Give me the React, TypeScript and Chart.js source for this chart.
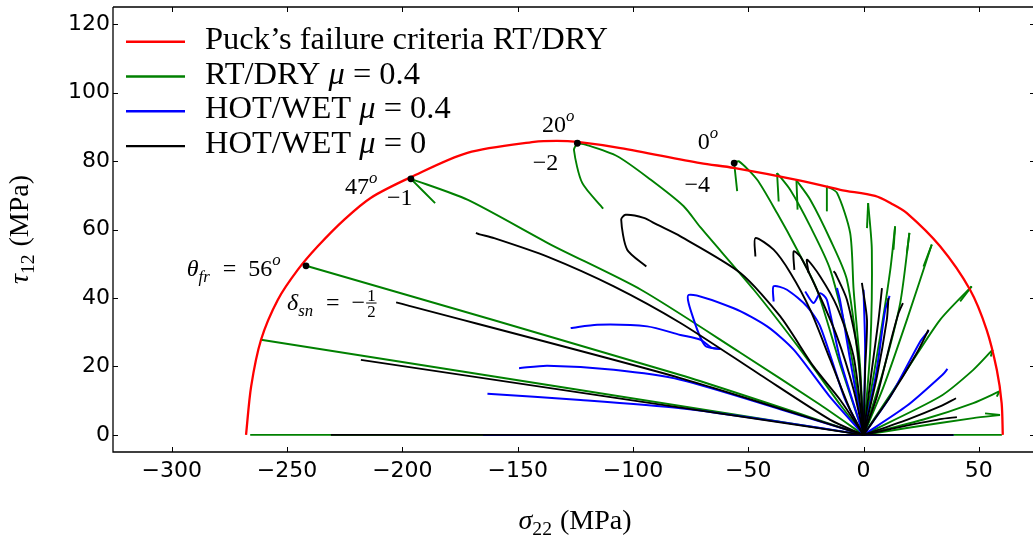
import React, { useEffect, useRef } from 'react';
import { Chart, registerables } from 'chart.js';

Chart.register(...registerables);

type P = [number, number];

const X_MIN = -325.5;
const X_MAX = 73.5;
const X_TICKS = [-300, -250, -200, -150, -100, -50, 0, 50];
const Y_TICKS = [0, 20, 40, 60, 80, 100, 120];

// Puck's failure envelope (RT/DRY)
const puckEnvelope: P[] = [
  [-267.8, 0], [-265.6, 14.1], [-261.3, 27.8], [-254.0, 39.5], [-245.4, 48.2], [-236.7, 55.1],
  [-225.2, 62.9], [-213.6, 69.3], [-196.3, 75.3], [-171.8, 82.4], [-142.9, 85.6], [-133.0, 85.9],
  [-124.1, 85.6], [-105.4, 83.8], [-70.7, 79.4], [-56.3, 78.0], [-27.4, 74.3], [-10.1, 71.6],
  [5.0, 69.8], [12.0, 67.6], [18.8, 64.8], [33.2, 55.1], [46.2, 42.4], [53.4, 30.7], [57.8, 19.0],
  [59.9, 9.3], [60.4, 0],
];

// RT/DRY mu = 0.4
const rtDryCurves: P[][] = [
  [[-266, 0], [60, 0]],
  [[-261.3, 27.8], [0, 0]],
  [[-241.8, 49.4], [-79.4, 17.5], [0, 0]],
  [[-196.3, 74.8], [-171.8, 68.7], [-135.7, 55.6], [-96.5, 42.4], [-53.4, 24.0], [-18.8, 8.8], [0, 0]],
  [[-196.3, 74.8], [-185.8, 67.7]],
  [[-124.1, 85.2], [-120.6, 84.8], [-106.8, 81.4], [-92.4, 74.6], [-78.0, 66.8], [-70.7, 60.6], [-47.6, 42.4], [-27.4, 24.9], [-10.1, 8.8], [0, 0]],
  [[-124.1, 85.2], [-125.6, 83.3], [-122.0, 73.6], [-112.9, 66.1]],
  [[-56.1, 79.4], [-54.0, 79.9], [-46.2, 74.6], [-37.5, 64.8], [-28.8, 54.1], [-20.2, 42.4], [-10.1, 20.5], [0, 0]],
  [[-56.1, 79.4], [-54.8, 71.2]],
  [[-37.5, 76.5], [-31.8, 71.6], [-23.1, 60.9], [-14.4, 48.2], [-5.5, 24.0], [0, 0]],
  [[-37.5, 76.5], [-36.8, 68.2]],
  [[-29.1, 74.4], [-23.1, 68.7], [-14.4, 57.0], [-7.2, 45.3], [-2.0, 20.0], [0, 0]],
  [[-29.1, 74.4], [-28.6, 65.8]],
  [[-15.9, 72.6], [-11.5, 70.7], [-5.8, 59.0], [-4.3, 42.4], [-1.5, 20.0], [0, 0]],
  [[-15.9, 72.6], [-15.9, 65.3]],
  [[2.0, 67.7], [3.6, 54.1], [2.9, 24.9], [0, 0]],
  [[2.0, 67.7], [1.5, 60.4]],
  [[13.7, 60.9], [11.6, 48.2], [7.2, 28.7], [0, 0]],
  [[13.7, 60.9], [13.0, 54.1]],
  [[19.9, 59.0], [15.9, 38.5], [8.7, 19.0], [0, 0]],
  [[19.9, 59.0], [18.8, 53.1]],
  [[29.6, 55.6], [18.8, 33.6], [8.7, 14.1], [0, 0]],
  [[29.6, 55.6], [26.0, 49.2]],
  [[46.9, 43.4], [33.2, 33.6], [18.8, 19.0], [0, 0]],
  [[46.9, 43.4], [41.9, 39.0]],
  [[56.0, 24.9], [47.6, 19.0], [33.2, 11.2], [0, 0]],
  [[56.0, 24.9], [55.2, 22.9]],
  [[58.9, 12.7], [47.6, 9.3], [26.0, 4.5], [0, 0]],
  [[58.9, 12.7], [57.8, 11.2]],
  [[59.2, 5.8], [47.6, 4.9], [18.8, 2.0], [0, 0]],
  [[59.2, 5.8], [52.7, 6.3]],
];

// HOT/WET mu = 0.4
const hotWetMu04Curves: P[][] = [
  [[-165, 0], [39, 0]],
  [[-163.1, 12.0], [-122.7, 10.2], [-79.4, 7.8], [-36.1, 3.8], [0, 0]],
  [[-149.4, 19.5], [-137.1, 20.2], [-108.3, 19.0], [-79.4, 16.1], [-36.1, 7.5], [0, 0]],
  [[-127.0, 31.2], [-115.5, 32.2], [-93.8, 31.7], [-79.4, 29.2], [-70.7, 27.8], [-66.0, 25.5], [-62.1, 25.1]],
  [[-62.1, 25.1], [-68.6, 26.0], [-73.6, 33.6], [-75.8, 40.9], [-56.3, 37.0], [-41.8, 31.7], [-30.3, 24.9], [-15.0, 11.5], [0, 0]],
  [[-39.0, 39.0], [-39.0, 43.4], [-33.2, 42.4], [-24.5, 37.5], [-18.8, 31.7], [-7.9, 10.2], [0, 0]],
  [[-25.3, 41.9], [-21.7, 38.5], [-18.8, 41.4], [-15.9, 39.5], [-10.1, 21.9], [0, 0]],
  [[-11.5, 42.9], [-10.1, 39.0], [-5.8, 21.9], [0, 0]],
  [[0, 42.4], [0.7, 25.0], [0, 0]],
  [[11.3, 40.6], [9.4, 36.5], [5.5, 18.0], [0, 0]],
  [[28.2, 30.4], [24.6, 27.3], [11.6, 11.2], [0, 0]],
  [[36.4, 19.3], [34.6, 17.8], [18.8, 8.5], [0, 0]],
];

// HOT/WET mu = 0
const hotWetMu0Curves: P[][] = [
  [[-231, 0], [39, 0]],
  [[-218.0, 21.9], [0, 0]],
  [[-202.7, 38.7], [-79.4, 16.6], [0, 0]],
  [[-168.1, 59.0], [-166.5, 58.6], [-160.2, 57.5], [-137.1, 52.1], [-108.3, 43.4], [-79.4, 32.7], [-44.7, 17.5], [-14.4, 4.4], [0, 0]],
  [[-94.2, 49.2], [-102.5, 54.1], [-105.1, 62.9], [-103.2, 64.3], [-95.3, 63.4], [-89.5, 61.4], [-79.4, 58.0], [-53.4, 47.3], [-36.1, 34.6], [-21.7, 20.0], [-10.1, 10.2], [0, 0]],
  [[-46.9, 52.1], [-46.9, 57.5], [-39.0, 54.1], [-31.7, 47.3], [-23.1, 36.5], [-14.4, 21.9], [-5.8, 7.3], [0, 0]],
  [[-30.0, 48.2], [-30.3, 53.6], [-27.4, 52.1], [-20.2, 42.4], [-11.5, 28.7], [-4.3, 13.2], [0, 0]],
  [[-23.8, 47.3], [-24.5, 51.2], [-18.8, 46.3], [-11.5, 37.5], [-4.3, 22.9], [0, 0]],
  [[-13.0, 47.8], [-12.3, 47.3], [-7.2, 39.5], [-2.2, 22.9], [0, 0]],
  [[-0.7, 44.4], [1.5, 33.6], [0.7, 19.0], [0, 0]],
  [[8.0, 42.9], [6.5, 33.6], [3.6, 19.0], [0, 0]],
  [[10.8, 40.0], [10.1, 33.6], [5.8, 17.0], [0, 0]],
  [[17.1, 38.5], [15.2, 35.6], [11.6, 26.8], [5.8, 11.2], [0, 0]],
  [[28.2, 30.7], [23.1, 23.9], [11.6, 11.2], [0, 0]],
  [[40.1, 10.7], [33.2, 8.3], [18.8, 4.4], [0, 0]],
  [[40.5, 5.2], [33.2, 4.6], [11.6, 1.7], [0, 0]],
];

const fractureDots: P[] = [[-241.8, 49.4], [-196.3, 74.8], [-124.1, 85.2], [-56.1, 79.4]];

const SERIF = '"Liberation Serif", "DejaVu Serif", serif';
const SANS = '"DejaVu Sans", sans-serif';

type Seg = { t?: string; it?: boolean; sc?: number; dy?: number; frac?: [string, string] };

const EQ = '\u2002=\u2002';

const legendItems: { color: string; segs: Seg[] }[] = [
  { color: '#ff0000', segs: [{ t: 'Puck\u2019s failure criteria RT/DRY' }] },
  { color: '#008000', segs: [{ t: 'RT/DRY ' }, { t: '\u03bc', it: true }, { t: ' = 0.4' }] },
  { color: '#0000ff', segs: [{ t: 'HOT/WET ' }, { t: '\u03bc', it: true }, { t: ' = 0.4' }] },
  { color: '#000000', segs: [{ t: 'HOT/WET ' }, { t: '\u03bc', it: true }, { t: ' = 0' }] },
];

const deg = (n: string): Seg[] => [{ t: n }, { t: 'o', it: true, sc: 0.7, dy: -0.45 }];

const annotations: { x: number; y: number; segs: Seg[] }[] = [
  { x: -132.2, y: 90.9, segs: deg('20') },
  { x: -137.9, y: 79.8, segs: [{ t: '\u22122' }] },
  { x: -67.3, y: 86.0, segs: deg('0') },
  { x: -72.1, y: 73.4, segs: [{ t: '\u22124' }] },
  { x: -217.6, y: 72.8, segs: deg('47') },
  { x: -201.1, y: 69.6, segs: [{ t: '\u22121' }] },
  { x: -272.9, y: 48.8, segs: [{ t: '\u03b8', it: true }, { t: 'fr', it: true, sc: 0.7, dy: 0.25 }, { t: EQ + '56' }, { t: 'o', it: true, sc: 0.7, dy: -0.45 }] },
  { x: -230.4, y: 38.9, segs: [{ t: '\u03b4', it: true }, { t: 'sn', it: true, sc: 0.7, dy: 0.25 }, { t: EQ + '\u2212' }, { frac: ['1', '2'] }] },
];

function segFont(size: number, s: Seg) {
  return `${s.it ? 'italic ' : ''}${size * (s.sc ?? 1)}px ${SERIF}`;
}

function measureRich(ctx: CanvasRenderingContext2D, segs: Seg[], size: number) {
  return segs.map((s) => {
    if (s.frac) {
      ctx.font = `${size * 0.7}px ${SERIF}`;
      return Math.max(ctx.measureText(s.frac[0]).width, ctx.measureText(s.frac[1]).width) + 4;
    }
    ctx.font = segFont(size, s);
    return ctx.measureText(s.t || '').width + (s.sc ? 1 : 0);
  });
}

function drawRich(ctx: CanvasRenderingContext2D, segs: Seg[], x: number, y: number, size: number, align: 'left' | 'center') {
  ctx.textBaseline = 'alphabetic';
  ctx.textAlign = 'left';
  const widths = measureRich(ctx, segs, size);
  const total = widths.reduce((a, b) => a + b, 0);
  let cx = align === 'center' ? x - total / 2 : x;
  segs.forEach((s, i) => {
    const w = widths[i];
    if (s.frac) {
      const fs = size * 0.7;
      ctx.font = `${fs}px ${SERIF}`;
      const mid = y - size * 0.28;
      ctx.textAlign = 'center';
      ctx.fillText(s.frac[0], cx + w / 2, mid - 2);
      ctx.fillText(s.frac[1], cx + w / 2, mid + 2 + fs * 0.7);
      ctx.textAlign = 'left';
      ctx.fillRect(cx + 1, mid - 0.5, w - 2, 1);
    } else {
      ctx.font = segFont(size, s);
      ctx.fillText(s.t || '', cx, y + (s.dy ?? 0) * size);
    }
    cx += w;
  });
}

// keep the x scale at the intended pixels-per-unit even if the layout trims the plot area
const scaleFixPlugin = {
  id: 'scaleFix',
  afterLayout(chart: any) {
    const xs = chart.scales.x;
    const area = chart.chartArea;
    const k = (chart.width - area.left) / (X_MAX - X_MIN);
    xs.min = X_MIN;
    xs.max = X_MIN + (area.right - area.left) / k;
    xs.configure();
  },
};

const decorPlugin = {
  id: 'decor',
  afterDraw(chart: any) {
    const ctx: CanvasRenderingContext2D = chart.ctx;
    const { left, top, bottom } = chart.chartArea;
    const W = chart.width;
    const xs = chart.scales.x;
    const ys = chart.scales.y;
    ctx.save();
    ctx.strokeStyle = '#000';
    ctx.fillStyle = '#000';
    ctx.lineWidth = 1.3;
    ctx.beginPath();
    ctx.moveTo(left, top);
    ctx.lineTo(W, top);
    ctx.moveTo(left, top);
    ctx.lineTo(left, bottom);
    ctx.lineTo(W, bottom);
    ctx.stroke();
    ctx.lineWidth = 1;
    ctx.beginPath();
    const tl = 5;
    X_TICKS.forEach((v) => {
      const px = Math.round(xs.getPixelForValue(v)) + 0.5;
      ctx.moveTo(px, bottom);
      ctx.lineTo(px, bottom - tl);
      ctx.moveTo(px, top);
      ctx.lineTo(px, top + tl);
    });
    Y_TICKS.forEach((v) => {
      const py = Math.round(ys.getPixelForValue(v)) + 0.5;
      ctx.moveTo(left, py);
      ctx.lineTo(left + tl, py);
      ctx.moveTo(W, py);
      ctx.lineTo(W - 3, py);
    });
    ctx.stroke();

    // axis titles
    drawRich(ctx, [{ t: '\u03c3', it: true }, { t: '22', sc: 0.7, dy: 0.22 }, { t: ' (MPa)' }], (left + W) / 2 + 2, 529, 28, 'center');
    ctx.save();
    ctx.translate(28, (top + bottom) / 2);
    ctx.rotate(-Math.PI / 2);
    drawRich(ctx, [{ t: '\u03c4', it: true }, { t: '12', sc: 0.7, dy: 0.22 }, { t: ' (MPa)' }], 0, 0, 28, 'center');
    ctx.restore();

    // legend
    const LS = 31;
    const w0 = measureRich(ctx, legendItems[0].segs, LS).reduce((a, b) => a + b, 0);
    const stretch = 403 / w0;
    legendItems.forEach((it, i) => {
      const ry = 41.7 + i * 34.8;
      ctx.strokeStyle = it.color;
      ctx.lineWidth = 2.4;
      ctx.beginPath();
      ctx.moveTo(126, ry);
      ctx.lineTo(185, ry);
      ctx.stroke();
      ctx.fillStyle = '#000';
      ctx.save();
      ctx.translate(205, ry + 7);
      ctx.scale(stretch, 1);
      drawRich(ctx, it.segs, 0, 0, LS, 'left');
      ctx.restore();
    });

    // annotations
    annotations.forEach((a) => {
      const px = xs.getPixelForValue(a.x);
      const py = ys.getPixelForValue(a.y);
      drawRich(ctx, a.segs, px, py + 8, 24, 'center');
    });
    ctx.restore();
  },
};

const fmt = (v: number | string) => {
  const n = Number(v);
  return n < 0 ? '\u2212' + Math.abs(n) : String(n);
};

export default function App() {
  const ref = useRef<HTMLCanvasElement | null>(null);
  useEffect(() => {
    document.body.style.margin = '0';
    const canvas = ref.current;
    if (!canvas) return;
    const mk = (pts: P[], color: string, width: number, order: number, tension = 0.25) => ({
      data: pts.map(([x, y]) => ({ x, y })),
      showLine: true,
      borderColor: color,
      backgroundColor: color,
      borderWidth: width,
      pointRadius: 0,
      pointHoverRadius: 0,
      tension,
      order,
      fill: false,
    });
    const datasets: any[] = [
      {
        data: fractureDots.map(([x, y]) => ({ x, y })),
        showLine: false,
        pointRadius: 3.4,
        pointBackgroundColor: '#000',
        pointBorderColor: '#000',
        pointBorderWidth: 0,
        order: 0,
      },
      mk(puckEnvelope, '#ff0000', 2.3, 1, 0.3),
      ...hotWetMu0Curves.map((c) => mk(c, '#000000', 1.9, 2)),
      ...hotWetMu04Curves.map((c) => mk(c, '#0000ff', 2.0, 3)),
      ...rtDryCurves.map((c) => mk(c, '#008000', 1.9, 4)),
    ];
    const chart = new Chart(canvas, {
      type: 'scatter',
      data: { datasets },
      options: {
        responsive: false,
        animation: false,
        layout: { padding: { top: 7, left: 0, right: 0, bottom: 0 } },
        plugins: { legend: { display: false }, tooltip: { enabled: false } },
        events: [],
        scales: {
          x: {
            type: 'linear',
            min: X_MIN,
            max: X_MAX,
            afterFit: (s: any) => { s.height = 91; s.paddingLeft = 0; s.paddingRight = 0; },
            afterBuildTicks: (s: any) => { s.ticks = X_TICKS.map((v) => ({ value: v })); },
            grid: { display: false, drawTicks: false },
            border: { display: false },
            ticks: {
              padding: 6,
              color: '#000',
              font: { family: SANS, size: 22 },
              callback: fmt,
              maxRotation: 0,
              autoSkip: false,
            },
          },
          y: {
            type: 'linear',
            min: -5,
            max: 125,
            afterFit: (s: any) => { s.width = 113; s.paddingTop = 0; s.paddingBottom = 0; },
            afterBuildTicks: (s: any) => { s.ticks = Y_TICKS.map((v) => ({ value: v })); },
            grid: { display: false, drawTicks: false },
            border: { display: false },
            ticks: {
              padding: 3,
              color: '#000',
              font: { family: SANS, size: 22 },
              callback: fmt,
              autoSkip: false,
            },
          },
        },
      } as any,
      plugins: [scaleFixPlugin, decorPlugin],
    });
    return () => chart.destroy();
  }, []);
  return <canvas ref={ref} width={1033} height={543} style={{ display: 'block' }} />;
}
